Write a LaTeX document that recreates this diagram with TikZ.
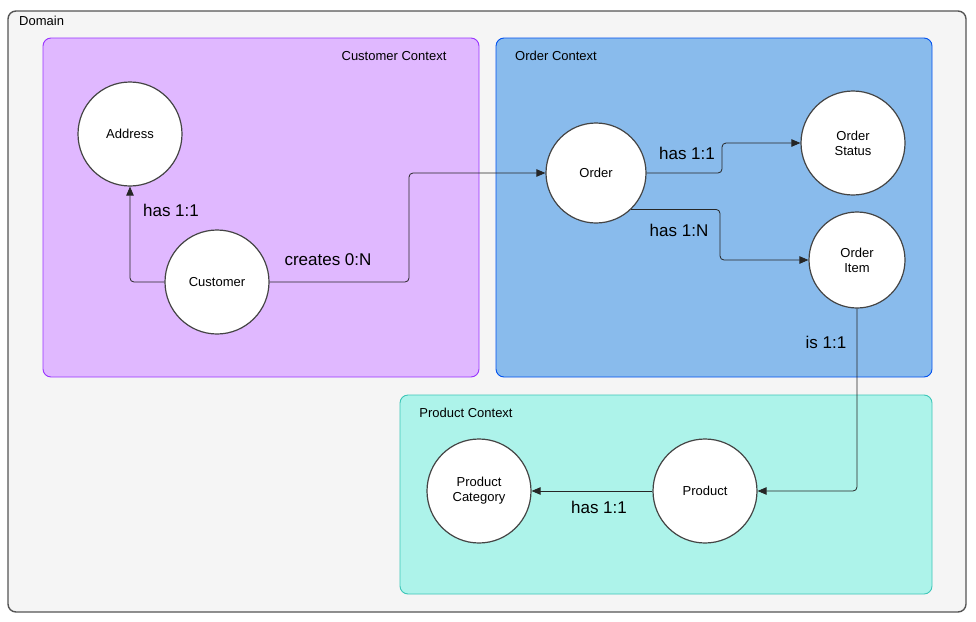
\documentclass[tikz,border=0pt]{standalone}
\usepackage{fontspec}
\setmainfont{Liberation Sans}
\usetikzlibrary{arrows.meta}
\definecolor{domfill}{HTML}{F5F5F5}
\definecolor{domline}{HTML}{555555}
\definecolor{custfill}{HTML}{E0B8FF}
\definecolor{custline}{HTML}{9933FF}
\definecolor{ordfill}{HTML}{89BBEC}
\definecolor{ordline}{HTML}{0050EF}
\definecolor{prodfill}{HTML}{ADF3EA}
\definecolor{prodline}{HTML}{3CC6B8}
\definecolor{ringline}{HTML}{444444}

\begin{document}
\begin{tikzpicture}[x=1pt,y=-1pt]
\tikzset{entity/.style={circle,draw=ringline,line width=1.2pt,fill=white,inner sep=0pt,align=center,font=\fontsize{13}{15}\selectfont},
rel/.style={draw=black!85,line width=0.8pt,rounded corners=4pt,-{Triangle[length=9pt,width=7.5pt]}},
rellabel/.style={inner sep=0pt,font=\fontsize{17}{19}\selectfont},
ctxlabel/.style={inner sep=0pt,font=\fontsize{13}{15}\selectfont}}
\useasboundingbox (0,0) rectangle (976,621);
\draw [domline,fill=domfill,line width=1.4pt,rounded corners=8pt] (8,11) rectangle (966,612);
\node [ctxlabel,anchor=west] (domlbl) at (19,21) {Domain};
\draw [custline,fill=custfill,line width=0.9pt,rounded corners=8pt] (43,38) rectangle (479,377);
\draw [ordline,fill=ordfill,line width=0.9pt,rounded corners=8pt] (496,38) rectangle (932,377);
\draw [prodline,fill=prodfill,line width=0.9pt,rounded corners=8pt] (400,395) rectangle (932,594);
\node [ctxlabel] (custlbl) at (394,56) {Customer Context};
\node [ctxlabel] (ordlbl) at (556,56) {Order Context};
\node [ctxlabel] (prodlbl) at (466,413) {Product Context};
\node [entity,minimum size=104pt] (address) at (130,134) {Address};
\node [entity,minimum size=104pt] (customer) at (217,282) {Customer};
\node [entity,minimum size=100pt] (order) at (596,173) {Order};
\node [entity,minimum size=104pt] (status) at (853,143) {Order\\Status};
\node [entity,minimum size=96pt] (item) at (857,260) {Order\\Item};
\node [entity,minimum size=104pt] (product) at (705,491) {Product};
\node [entity,minimum size=104pt] (category) at (479,491) {Product\\Category};
\draw [rel] (customer.west) -| (address.south);
\draw [rel] (customer.east) -| (409,173) -- (order.west);
\draw [rel] (order.east) -| (722,143) -- (status.west);
\draw [rel] (order.-46) -| (720,260) -- (item.west);
\draw [rel] (item.south) |- (product.east);
\draw [rel] (product.west) -- (category.east);
\node [rellabel] (l1) at (171,210) {has 1:1};
\node [rellabel] (l2) at (328,260) {creates 0:N};
\node [rellabel] (l3) at (687,153) {has 1:1};
\node [rellabel] (l4) at (679,230) {has 1:N};
\node [rellabel] (l5) at (826,342) {is 1:1};
\node [rellabel] (l6) at (599,507) {has 1:1};
\end{tikzpicture}
\end{document}
